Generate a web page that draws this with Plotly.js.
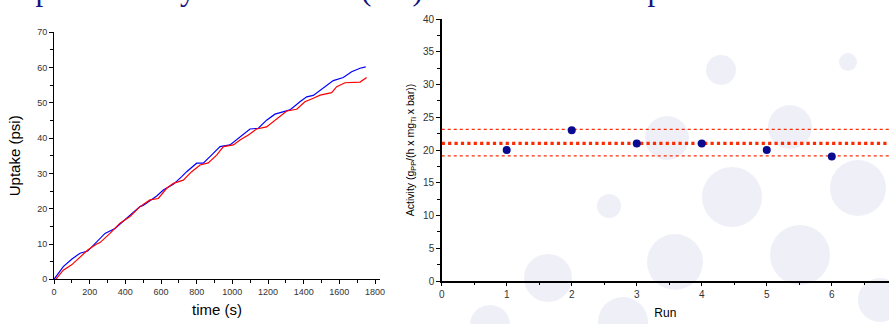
<!DOCTYPE html>
<html>
<head>
<meta charset="utf-8">
<script src="https://cdn.plot.ly/plotly-3.0.1.min.js"></script>
<style>html,body{margin:0;padding:0;background:#fff;}#chart{width:889px;height:324px;}</style>
</head>
<body>
<div id="chart"></div>
<script>
// ---- Left panel: uptake vs time (two runs) ----
const timeBlue = [0, 52, 99, 146, 189, 239, 286, 342, 398, 445, 482, 500, 576, 613, 669, 716, 744, 800, 837, 893, 931, 987, 1043, 1099, 1146, 1192, 1239, 1286, 1323, 1379, 1417, 1454, 1510, 1566, 1622, 1669, 1716, 1748];
const uptakeBlue = [0, 3.6, 5.7, 7.4, 8.0, 10.7, 13.0, 14.4, 16.8, 18.9, 20.6, 20.9, 23.6, 25.3, 26.9, 29.1, 30.5, 32.9, 32.9, 35.7, 37.6, 38.1, 40.4, 42.6, 42.8, 45.1, 46.8, 47.4, 48.0, 50.3, 51.7, 52.1, 54.1, 56.3, 57.2, 58.8, 59.8, 60.2];
const timeRed = [10, 52, 99, 146, 189, 239, 258, 314, 370, 426, 482, 538, 585, 632, 669, 725, 772, 819, 865, 912, 950, 1006, 1043, 1090, 1136, 1192, 1249, 1305, 1361, 1407, 1454, 1492, 1557, 1585, 1632, 1716, 1753];
const uptakeRed = [0, 2.6, 4.1, 6.2, 8.3, 10.0, 10.4, 13.0, 15.9, 17.8, 20.6, 22.5, 22.9, 25.8, 27.2, 28.1, 30.5, 32.4, 33.0, 35.2, 37.6, 38.1, 39.5, 40.9, 42.6, 43.2, 45.6, 47.7, 48.2, 50.3, 51.3, 52.2, 52.9, 54.6, 55.7, 55.9, 57.2];

// ---- Right panel: activity per run ----
const runs = [1, 2, 3, 4, 5, 6];
const activity = [20, 23, 21, 21, 20, 19];
const lineSpan = [0, 7];
const meanActivity = 21.0;
const upperActivity = 23.15;
const lowerActivity = 19.1;

const titleText = 'Reproducibility within a run (left) and between independent runs';

// decorative background bubbles (pixel centre x, y, radius)
const bubbles = [
  [721, 70, 15], [848, 62, 9], [667, 138, 22], [790, 127, 22], [732, 197, 30],
  [858, 188, 28], [609, 206, 12], [548, 278, 24], [675, 262, 28], [800, 255, 30],
  [623, 322, 25], [490, 325, 20], [880, 300, 22]
];

const W = 889, H = 324;
const shapes = bubbles.map(b => ({
  type: 'circle', xref: 'paper', yref: 'paper', layer: 'below',
  x0: (b[0] - b[2]) / W, x1: (b[0] + b[2]) / W,
  y0: 1 - (b[1] + b[2]) / H, y1: 1 - (b[1] - b[2]) / H,
  fillcolor: 'rgba(226,226,242,0.55)', line: {width: 0}
}));

const traces = [
  {x: timeBlue, y: uptakeBlue, type: 'scatter', mode: 'lines', line: {color: '#0000ff', width: 1.2}, xaxis: 'x', yaxis: 'y', hoverinfo: 'skip'},
  {x: timeRed, y: uptakeRed, type: 'scatter', mode: 'lines', line: {color: '#ff0000', width: 1.2}, xaxis: 'x', yaxis: 'y', hoverinfo: 'skip'},
  {x: lineSpan, y: lineSpan.map(() => upperActivity), type: 'scatter', mode: 'lines', line: {color: '#ff2a00', width: 1.2, dash: 'dot'}, xaxis: 'x2', yaxis: 'y2'},
  {x: lineSpan, y: lineSpan.map(() => lowerActivity), type: 'scatter', mode: 'lines', line: {color: '#ff2a00', width: 1.2, dash: 'dot'}, xaxis: 'x2', yaxis: 'y2'},
  {x: lineSpan, y: lineSpan.map(() => meanActivity), type: 'scatter', mode: 'lines', line: {color: '#ff2a00', width: 3.2, dash: 'dot'}, xaxis: 'x2', yaxis: 'y2'},
  {x: runs, y: activity, type: 'scatter', mode: 'markers', marker: {color: '#0a0a90', size: 8, symbol: 'circle'}, xaxis: 'x2', yaxis: 'y2'}
];

const tickFont = {family: 'Arial, Liberation Sans, sans-serif', size: 9, color: '#333'};
const tickFont2 = {family: 'Arial, Liberation Sans, sans-serif', size: 10, color: '#333'};
const layout = {
  width: W, height: H,
  margin: {l: 0, r: 0, t: 0, b: 0},
  paper_bgcolor: '#ffffff', plot_bgcolor: 'rgba(0,0,0,0)',
  showlegend: false,
  shapes: shapes,
  annotations: [{
    text: titleText, xref: 'paper', yref: 'paper', x: 404 / W, y: 1 - 9 / H,
    xanchor: 'center', yanchor: 'bottom', showarrow: false,
    font: {family: '"Liberation Serif", "Times New Roman", serif', size: 31, color: '#14147a'}
  }],
  xaxis: {
    domain: [54 / W, 380 / W], range: [0, 1828], anchor: 'y',
    showgrid: false, zeroline: false, showline: true, linecolor: '#000', linewidth: 1,
    ticks: 'outside', ticklen: 4, tickcolor: '#000', dtick: 200, tick0: 0,
    minor: {dtick: 100, ticks: 'outside', ticklen: 3, tickcolor: '#000'},
    tickfont: tickFont,
    title: {text: 'time (s)', font: {family: 'Arial, Liberation Sans, sans-serif', size: 15, color: '#000'}, standoff: 8}
  },
  yaxis: {
    domain: [(H - 279.3) / H, (H - 32.3) / H], range: [0, 70], anchor: 'x',
    showgrid: false, zeroline: false, showline: true, linecolor: '#000', linewidth: 1,
    ticks: 'outside', ticklen: 4, tickcolor: '#000', dtick: 10, tick0: 0,
    minor: {dtick: 5, ticks: 'outside', ticklen: 3, tickcolor: '#000'},
    tickfont: tickFont,
    title: {text: 'Uptake (psi)', font: {family: 'Arial, Liberation Sans, sans-serif', size: 15, color: '#000'}, standoff: 12}
  },
  xaxis2: {
    domain: [441.7 / W, 1], range: [0, 6.88], anchor: 'y2',
    showgrid: false, zeroline: false, showline: true, linecolor: '#000', linewidth: 1.5,
    ticks: 'outside', ticklen: 3, tickcolor: '#000', dtick: 1, tick0: 0,
    minor: {dtick: 0.5, ticks: 'outside', ticklen: 2, tickcolor: '#000'},
    tickfont: tickFont2,
    title: {text: 'Run', font: {family: 'Arial, Liberation Sans, sans-serif', size: 12, color: '#000'}, standoff: 10}
  },
  yaxis2: {
    domain: [(H - 281) / H, (H - 19) / H], range: [0, 40], anchor: 'x2',
    showgrid: false, zeroline: false, showline: true, linecolor: '#000', linewidth: 1.5,
    ticks: 'outside', ticklen: 4, tickcolor: '#000', dtick: 5, tick0: 0,
    minor: {dtick: 2.5, ticks: 'outside', ticklen: 3, tickcolor: '#000'},
    tickfont: tickFont2,
    title: {text: 'Activity (g<sub>PP</sub>/(h x mg<sub>Ti</sub> x bar))', font: {family: 'Arial, Liberation Sans, sans-serif', size: 10.5, color: '#000'}, standoff: 6}
  }
};

Plotly.newPlot('chart', traces, layout, {staticPlot: true, displayModeBar: false});
</script>
</body>
</html>
